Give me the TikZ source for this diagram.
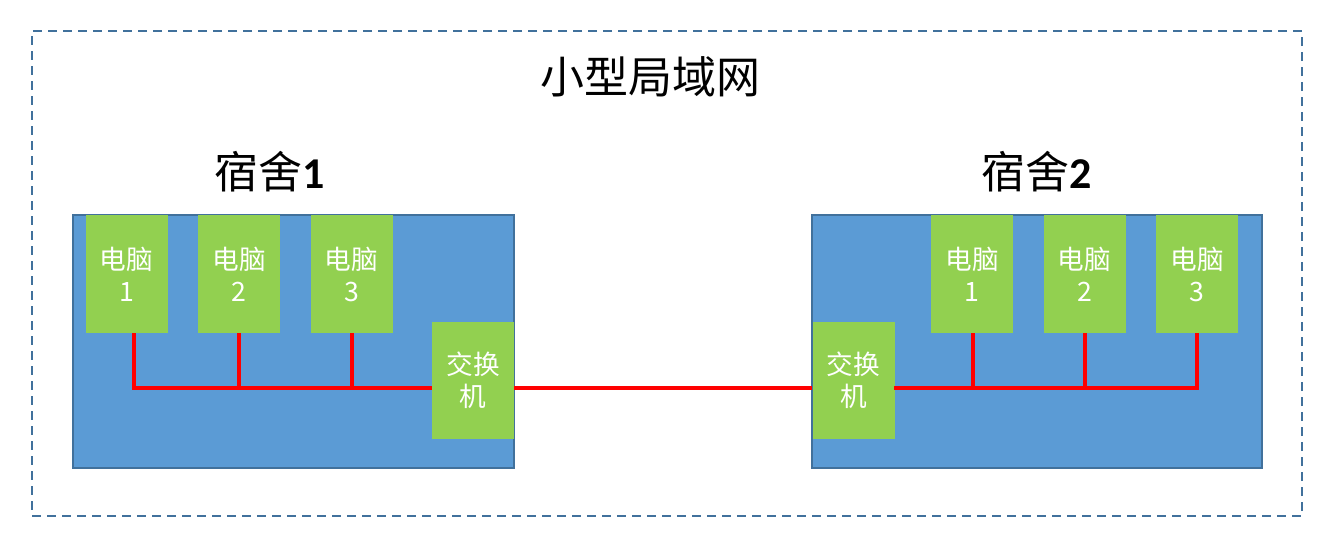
\documentclass[tikz,border=0pt]{standalone}
\usepackage{fontspec}
\setmainfont{Carlito}
\newfontfamily\cjk{Noto Sans CJK SC}
\usetikzlibrary{positioning}

\definecolor{roomblue}{HTML}{5B9BD5}
\definecolor{edgeblue}{HTML}{41719C}
\definecolor{pcgreen}{HTML}{92D050}

\begin{document}
\begin{tikzpicture}[
    x=0.75pt, y=-0.75pt,
    node distance=22.5pt,
    lan/.style={draw=edgeblue, line width=1.5pt, dash pattern=on 6.75pt off 4.5pt,
                minimum width=952.5pt, minimum height=363.75pt, inner sep=0pt},
    room/.style={draw=edgeblue, line width=1.5pt, fill=roomblue,
                 minimum height=189.75pt, inner sep=0pt},
    pc/.style={fill=pcgreen, text=white, align=center, inner sep=0pt,
               minimum width=61.5pt, minimum height=88.5pt,
               font=\cjk\fontsize{20}{24}\selectfont},
    switchbox/.style={pc, minimum height=87.75pt},
    roomlabel/.style={font=\fontsize{33}{40}\selectfont},
    wire/.style={red, line width=3pt}
  ]
  \useasboundingbox (0,0) rectangle (1332,554);

  % ===== frame and title =====
  \node[lan] (net) at (667,273.5) {};
  \node[font=\cjk\fontsize{33}{40}\selectfont] (title) at (650,77) {小型局域网};

  % ===== dorm 1 =====
  \node[room, minimum width=330.75pt] (roomA) at (293.5,341.5) {};
  \node[roomlabel] (labelA) at (270,172) {{\cjk 宿舍}\textbf{1}};
  \node[pc] (pcA1) at (126.5,274) {电脑\\1};
  \node[pc, right=of pcA1] (pcA2) {电脑\\2};
  \node[pc, right=of pcA2] (pcA3) {电脑\\3};
  \node[switchbox] (swA) at (473,380) {交换\\机};
  \coordinate (busA) at (432,388);

  \draw[wire] ([xshift=5.25pt]pcA1.south) |- (busA);
  \draw[wire] (pcA2.south) -- (pcA2.south |- busA);
  \draw[wire] (pcA3.south) -- (pcA3.south |- busA);

  % ===== dorm 2 =====
  \node[room, minimum width=337.5pt] (roomB) at (1037,341.5) {};
  \node[roomlabel] (labelB) at (1037,172) {{\cjk 宿舍}\textbf{2}};
  \node[pc] (pcB1) at (972,274) {电脑\\1};
  \node[pc, right=of pcB1] (pcB2) {电脑\\2};
  \node[pc, right=of pcB2] (pcB3) {电脑\\3};
  \node[switchbox] (swB) at (853.5,380) {交换\\机};
  \coordinate (busB) at (894,388);

  \draw[wire] ([xshift=1pt]pcB1.south) -- ([xshift=1pt]pcB1.south |- busB);
  \draw[wire] (pcB2.south) -- (pcB2.south |- busB);
  \draw[wire] (busB) -| (pcB3.south);

  % ===== link between the two switches =====
  \draw[wire] (busA -| swA.east) -- (busB -| swB.west);

\end{tikzpicture}
\end{document}
